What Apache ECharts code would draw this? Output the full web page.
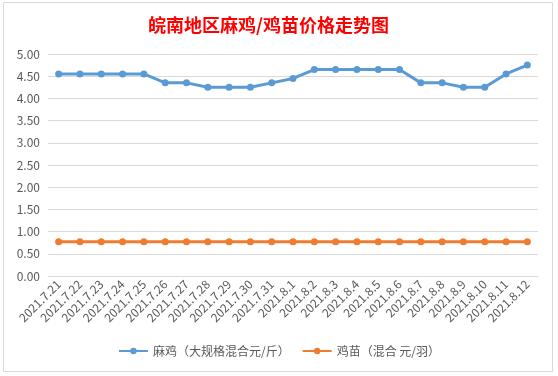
<!DOCTYPE html>
<html>
<head>
<meta charset="utf-8">
<script src="https://cdn.jsdelivr.net/npm/echarts@6/dist/echarts.min.js"></script>
<style>
html, body { margin: 0; padding: 0; background: #fff; }
#line-chart { width: 558px; height: 376px; }
</style>
</head>
<body>
<div id="line-chart"></div>
<script>
// 日期
const dates = ['2021.7.21', '2021.7.22', '2021.7.23', '2021.7.24', '2021.7.25', '2021.7.26', '2021.7.27',
    '2021.7.28', '2021.7.29', '2021.7.30', '2021.7.31', '2021.8.1', '2021.8.2', '2021.8.3', '2021.8.4',
    '2021.8.5', '2021.8.6', '2021.8.7', '2021.8.8', '2021.8.9', '2021.8.10', '2021.8.11', '2021.8.12'];
// 麻鸡 大规格混合 元/斤
const majiPrice = [4.55, 4.55, 4.55, 4.55, 4.55, 4.35, 4.35, 4.25, 4.25, 4.25, 4.35, 4.45,
    4.65, 4.65, 4.65, 4.65, 4.65, 4.35, 4.35, 4.25, 4.25, 4.55, 4.75];
// 鸡苗 混合 元/羽
const jimiaoPrice = [0.77, 0.77, 0.77, 0.77, 0.77, 0.77, 0.77, 0.77, 0.77, 0.77, 0.77, 0.77,
    0.77, 0.77, 0.77, 0.77, 0.77, 0.77, 0.77, 0.77, 0.77, 0.77, 0.77];

const chart = echarts.init(document.getElementById('line-chart'));
chart.setOption({
    animation: false,
    textStyle: { fontFamily: '"Noto Sans CJK SC", "Noto Sans", sans-serif' },
    title: {
        text: '皖南地区麻鸡/鸡苗价格走势图',
        left: 143,
        top: 11,
        textStyle: {
            color: '#ff0000',
            fontSize: 18,
            fontWeight: 'bold',
            fontFamily: '"Noto Sans CJK SC", serif'
        }
    },
    graphic: [{
        type: 'rect',
        shape: { x: 3.5, y: 2.5, width: 549, height: 369 },
        style: { fill: 'none', stroke: '#d9d9d9', lineWidth: 1 },
        silent: true
    }],
    legend: {
        bottom: 14,
        left: 'center',
        itemWidth: 29,
        itemHeight: 8,
        itemGap: 12,
        textStyle: { color: '#595959', fontSize: 12 },
        data: ['麻鸡（大规格混合元/斤）', '鸡苗（混合 元/羽）']
    },
    grid: {
        left: 48,
        right: 20,
        top: 54,
        bottom: 100
    },
    xAxis: {
        type: 'category',
        data: dates,
        boundaryGap: true,
        axisLine: { lineStyle: { color: '#d9d9d9' } },
        axisTick: { show: false },
        axisLabel: {
            rotate: 45,
            interval: 0,
            color: '#595959',
            fontSize: 12,
            margin: 6
        }
    },
    yAxis: {
        type: 'value',
        min: 0,
        max: 5,
        interval: 0.5,
        axisLine: { show: false },
        axisTick: { show: false },
        axisLabel: {
            color: '#595959',
            fontSize: 12,
            margin: 8,
            formatter: v => v.toFixed(2)
        },
        splitLine: { lineStyle: { color: '#d9d9d9' } }
    },
    series: [
        {
            name: '麻鸡（大规格混合元/斤）',
            type: 'line',
            data: majiPrice,
            color: '#5b9bd5',
            symbol: 'circle',
            symbolSize: 7,
            lineStyle: { width: 3 }
        },
        {
            name: '鸡苗（混合 元/羽）',
            type: 'line',
            data: jimiaoPrice,
            color: '#ed7d31',
            symbol: 'circle',
            symbolSize: 7,
            lineStyle: { width: 3 }
        }
    ]
});
</script>
</body>
</html>
